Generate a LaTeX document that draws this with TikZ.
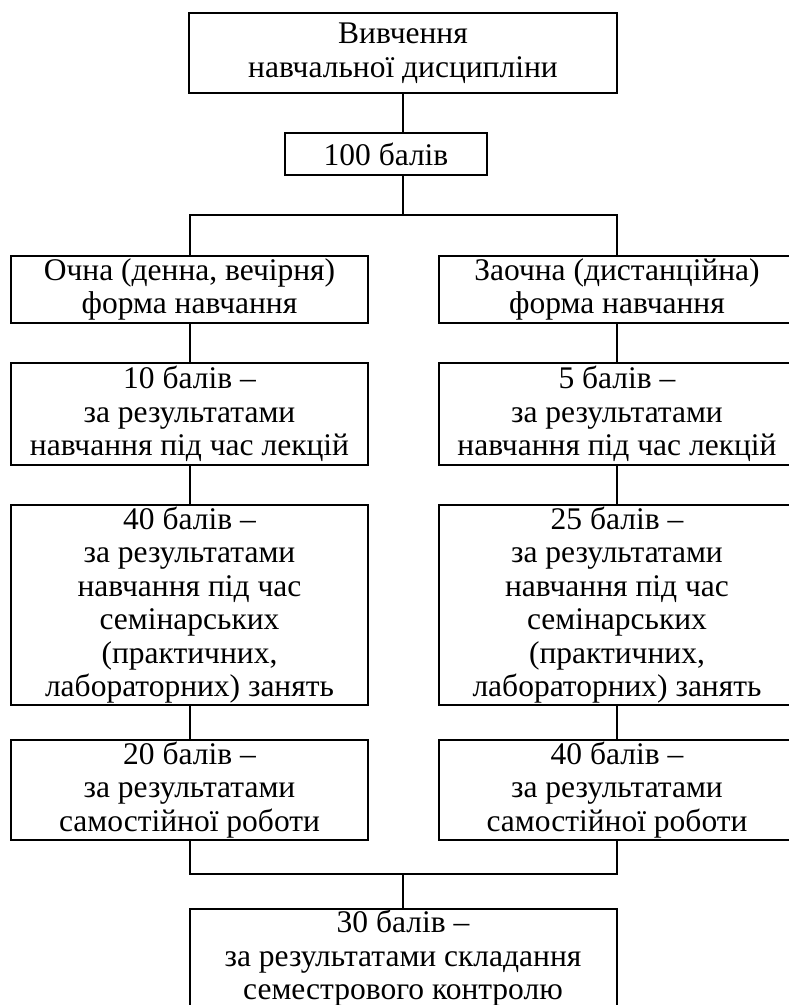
\documentclass[tikz,border=0pt]{standalone}
\usepackage{fontspec}
\setmainfont{Liberation Serif}
\usetikzlibrary{calc}

\begin{document}
\begin{tikzpicture}[x=1pt,y=-1pt,
  cell/.style={draw, line width=2pt, inner sep=0pt, align=center,
    font=\fontsize{31.5}{33.5}\selectfont},
  col/.style={cell, minimum width=357pt},
  link/.style={line width=2pt}]
\useasboundingbox (0,0) rectangle (789,1005);

% Top
\node[cell, minimum width=428pt, minimum height=80pt] (study) at (403,53) {Вивчення\\навчальної дисципліни};
\node[cell, minimum width=202pt, minimum height=42pt] (total) at (386,154) {100 балів};
\coordinate (split) at (403,215);

% Full-time study
\node[col, minimum height=67pt] (fullform) at (189.5,289.5) {Очна (денна, вечірня)\\форма навчання};
\node[col, minimum height=102pt] (fulllect) at (189.5,414) {10 балів –\\за результатами\\навчання під час лекцій};
\node[col, minimum height=200pt] (fullsem) at (189.5,605) {40 балів –\\за результатами\\навчання під час\\семінарських\\(практичних,\\лабораторних) занять};
\node[col, minimum height=100pt] (fullself) at (189.5,790) {20 балів –\\за результатами\\самостійної роботи};

% Distance study
\node[col, minimum height=67pt] (distform) at (617,289.5) {Заочна (дистанційна)\\форма навчання};
\node[col, minimum height=102pt] (distlect) at (617,414) {5 балів –\\за результатами\\навчання під час лекцій};
\node[col, minimum height=200pt] (distsem) at (617,605) {25 балів –\\за результатами\\навчання під час\\семінарських\\(практичних,\\лабораторних) занять};
\node[col, minimum height=100pt] (distself) at (617,790) {40 балів –\\за результатами\\самостійної роботи};

% Bottom
\coordinate (join) at (403,874);
\node[cell, minimum width=427pt, minimum height=100.5pt] (exam) at (403,959.25) {30 балів –\\за результатами складання\\семестрового контролю\rule[-9pt]{0pt}{9pt}};

% Connectors
\draw[link] (study.south) -- (study.south |- total.north);
\draw[link] (split |- total.south) -- (split);
\draw[link] (fullform.north) |- (split) -| (distform.north);
\foreach \a/\b in {fullform/fulllect,fulllect/fullsem,fullsem/fullself,
  distform/distlect,distlect/distsem,distsem/distself}
  \draw[link] (\a.south) -- (\b.north);
\draw[link] (fullself.south) |- (join) -| (distself.south);
\draw[link] (join) -- (exam.north);
\end{tikzpicture}
\end{document}
